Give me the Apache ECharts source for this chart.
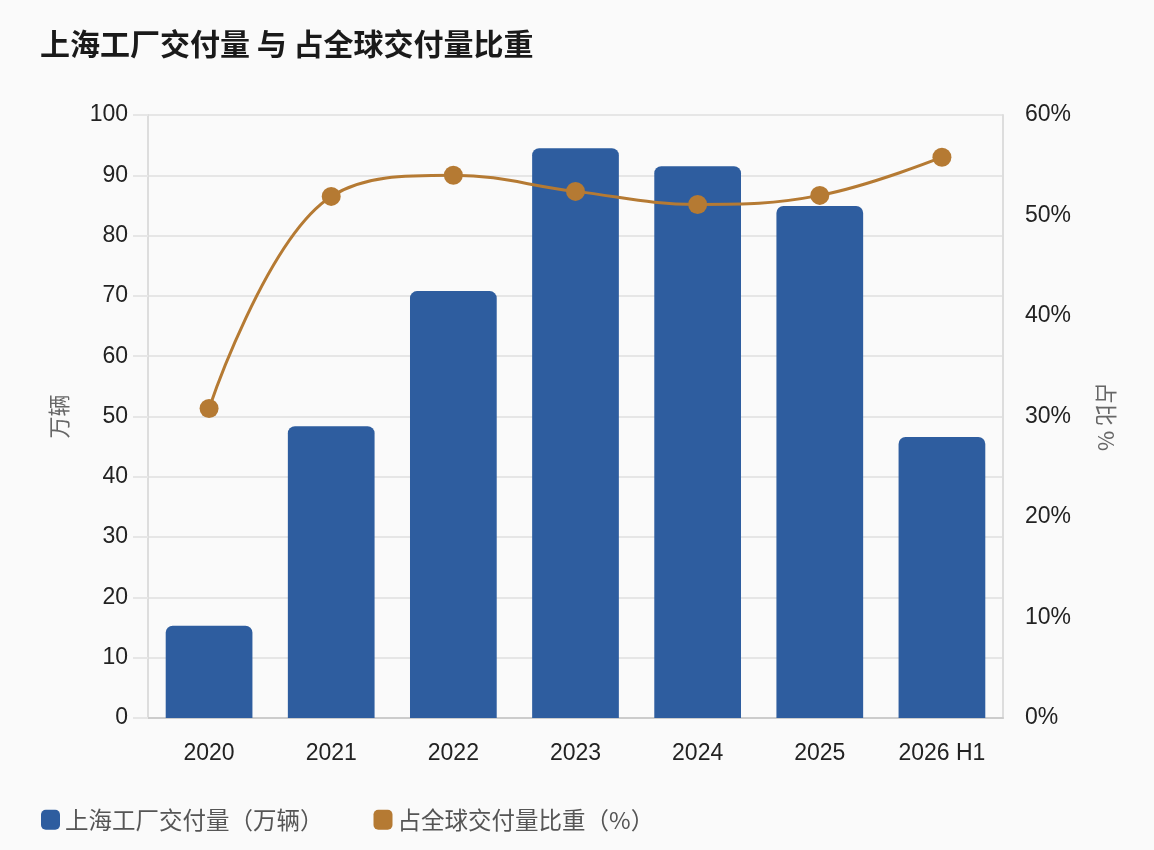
<!DOCTYPE html>
<html>
<head>
<meta charset="utf-8">
<script src="https://cdn.jsdelivr.net/npm/echarts@6/dist/echarts.min.js"></script>
<style>
html, body { margin: 0; padding: 0; background: #fafafa; }
#chart { width: 1154px; height: 850px; }
</style>
</head>
<body>
<div id="chart"></div>
<script>
var years = ['2020', '2021', '2022', '2023', '2024', '2025', '2026 H1'];
var deliveries = [15.3, 48.4, 70.8, 94.5, 91.5, 84.9, 46.6];
var shares = [30.8, 51.9, 54.0, 52.4, 51.1, 52.0, 55.8];
var leftTicks = [0, 100, 10];
var rightTicks = [0, 60, 10];

var font = '"Noto Sans CJK SC", "Noto Sans", sans-serif';
var numFont = '"Liberation Sans", Arial, sans-serif';
var myChart = echarts.init(document.getElementById('chart'));
var option = {
    backgroundColor: '#fafafa',
    textStyle: { fontFamily: font },
    title: {
        text: '上海工厂交付量 与 占全球交付量比重',
        left: 35,
        top: 24,
        textStyle: { fontSize: 30, fontWeight: 'bold', color: '#1a1a1a', fontFamily: font }
    },
    legend: {
        left: 36,
        top: 803,
        itemWidth: 19,
        itemHeight: 20,
        itemGap: 50,
        textStyle: { fontSize: 23.5, color: '#555', fontFamily: font },
        data: [
            { name: '上海工厂交付量（万辆）', icon: 'roundRect' },
            { name: '占全球交付量比重（%）', icon: 'roundRect' }
        ]
    },
    grid: { left: 148, right: 151, top: 115, bottom: 132 },
    xAxis: {
        type: 'category',
        data: years,
        axisLine: { lineStyle: { color: '#cccccc', width: 2 } },
        axisTick: { show: false },
        axisLabel: { fontSize: 23, color: '#222', margin: 24, fontFamily: numFont }
    },
    yAxis: [
        {
            type: 'value',
            name: '万辆',
            nameLocation: 'middle',
            nameGap: 78,
            nameRotate: 90,
            nameTextStyle: { fontSize: 22, color: '#666', fontFamily: font },
            min: leftTicks[0],
            max: leftTicks[1],
            interval: leftTicks[2],
            axisLine: { show: true, lineStyle: { color: '#dddddd', width: 2 } },
            axisTick: { show: true, length: 15, lineStyle: { color: '#e6e6e6', width: 2 } },
            axisLabel: { fontSize: 23, color: '#222', margin: 20, fontFamily: numFont },
            splitLine: { lineStyle: { color: '#e6e6e6', width: 2 } }
        },
        {
            type: 'value',
            name: '占比 %',
            nameLocation: 'middle',
            nameGap: 92,
            nameRotate: -90,
            nameTextStyle: { fontSize: 22, color: '#666', fontFamily: font },
            min: rightTicks[0],
            max: rightTicks[1],
            interval: rightTicks[2],
            axisLine: { show: true, lineStyle: { color: '#dddddd', width: 2 } },
            axisTick: { show: false },
            axisLabel: { fontSize: 23, color: '#222', margin: 22, formatter: '{value}%', fontFamily: numFont },
            splitLine: { show: false }
        }
    ],
    series: [
        {
            name: '上海工厂交付量（万辆）',
            type: 'bar',
            data: deliveries,
            barWidth: '71%',
            itemStyle: { color: '#2e5d9f', borderRadius: [7, 7, 0, 0] }
        },
        {
            name: '占全球交付量比重（%）',
            type: 'line',
            yAxisIndex: 1,
            data: shares,
            smooth: 0.4,
            symbol: 'circle',
            symbolSize: 19,
            z: 5,
            lineStyle: { color: '#b57a33', width: 3 },
            itemStyle: { color: '#b57a33' }
        }
    ]
};
myChart.setOption(option);
</script>
</body>
</html>
